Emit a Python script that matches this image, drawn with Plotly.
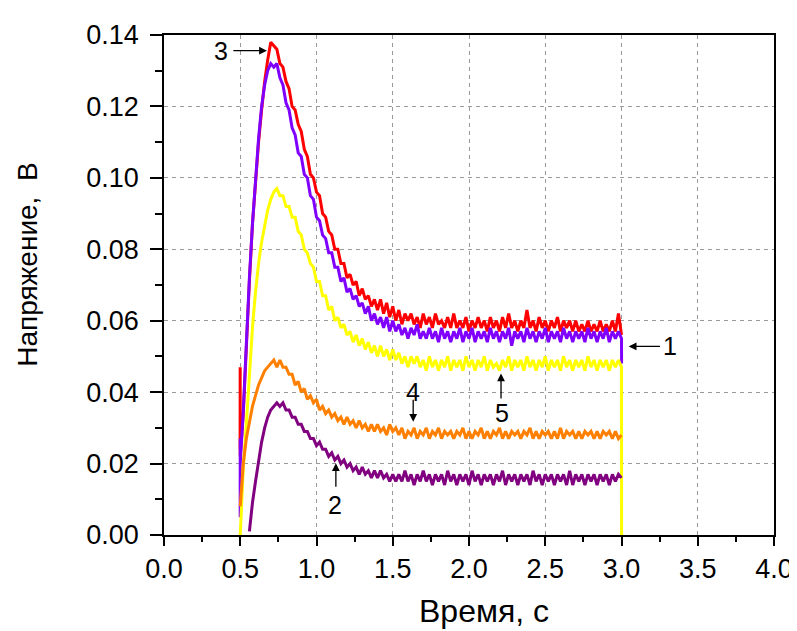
import plotly.graph_objects as go

# sampling grid (s)
T = [round(0.50 + 0.02 * i, 2) for i in range(126)]

# ---- curve 3 (red) ----
red_pre_t = [0.499, 0.4995]
red_pre_v = [0.024, 0.047]
red_v = (
    [0.022, 0.034, 0.054, 0.071, 0.087, 0.099, 0.110, 0.119, 0.127, 0.133, 0.138, 0.137]
    + [0.136, 0.132, 0.131, 0.127, 0.125, 0.120, 0.119, 0.115, 0.113, 0.108,
       0.106, 0.101, 0.100, 0.096, 0.095, 0.090, 0.089, 0.085, 0.084, 0.080,
       0.080, 0.076, 0.076, 0.072, 0.073, 0.070, 0.071, 0.067, 0.069, 0.066,
       0.067, 0.064, 0.066, 0.063, 0.066, 0.062, 0.065, 0.061, 0.064]
    + [0.060, 0.063, 0.059, 0.062, 0.060, 0.062, 0.059, 0.061, 0.058, 0.062,
       0.059, 0.061, 0.058, 0.062, 0.059, 0.060, 0.058, 0.061, 0.058, 0.062,
       0.058, 0.060, 0.058, 0.061, 0.057, 0.060, 0.058, 0.061, 0.058, 0.060,
       0.057, 0.061, 0.058, 0.060, 0.057, 0.061, 0.058, 0.062, 0.058, 0.060,
       0.057, 0.060, 0.058, 0.063, 0.058, 0.060, 0.057, 0.061, 0.058, 0.060,
       0.057, 0.060, 0.058, 0.061, 0.057, 0.060, 0.058, 0.060, 0.057, 0.060,
       0.057, 0.059, 0.057, 0.060, 0.057, 0.059, 0.057, 0.060, 0.057, 0.059,
       0.057, 0.060, 0.057, 0.062, 0.056]
)

# ---- curve 1 (violet) ----
vio_pre_t = [0.4995, 0.4998]
vio_pre_v = [0.005, 0.027]
vio_end_t = [3.0005]
vio_end_v = [0.048]
vio_v = (
    [0.020, 0.035, 0.055, 0.072, 0.087, 0.100, 0.111, 0.120, 0.126, 0.130, 0.132, 0.131]
    + [0.132, 0.128, 0.126, 0.121, 0.119, 0.114, 0.112, 0.107, 0.106, 0.101,
       0.100, 0.095, 0.094, 0.089, 0.088, 0.084, 0.083, 0.079, 0.079, 0.075,
       0.075, 0.071, 0.072, 0.068, 0.069, 0.066, 0.067, 0.064, 0.065, 0.062,
       0.064, 0.060, 0.062, 0.059, 0.061, 0.058, 0.061, 0.057, 0.060]
    + [0.057, 0.059, 0.056, 0.058, 0.055, 0.058, 0.056, 0.059, 0.055, 0.057,
       0.055, 0.058, 0.055, 0.057, 0.054, 0.058, 0.055, 0.057, 0.054, 0.057,
       0.055, 0.058, 0.054, 0.057, 0.055, 0.058, 0.054, 0.057, 0.055, 0.057,
       0.054, 0.058, 0.055, 0.057, 0.054, 0.057, 0.055, 0.058, 0.053, 0.057,
       0.055, 0.057, 0.054, 0.058, 0.055, 0.057, 0.054, 0.057, 0.055, 0.058,
       0.054, 0.057, 0.055, 0.057, 0.054, 0.058, 0.055, 0.057, 0.054, 0.057,
       0.055, 0.057, 0.054, 0.058, 0.055, 0.057, 0.054, 0.057, 0.055, 0.058,
       0.054, 0.057, 0.055, 0.057, 0.055]
)

# ---- curve 5 (yellow) ----
yel_end_t = [3.0005]
yel_end_v = [0.0]
yel_v = (
    [0.000, 0.019, 0.031, 0.045, 0.058, 0.068, 0.076, 0.082, 0.087, 0.091, 0.094, 0.096]
    + [0.097, 0.095, 0.095, 0.092, 0.092, 0.089, 0.089, 0.085, 0.084, 0.080,
       0.079, 0.076, 0.075, 0.071, 0.071, 0.067, 0.067, 0.063, 0.064, 0.060,
       0.061, 0.058, 0.059, 0.056, 0.057, 0.054, 0.056, 0.053, 0.055, 0.052,
       0.054, 0.051, 0.053, 0.050, 0.053, 0.050, 0.052, 0.049, 0.052]
    + [0.049, 0.051, 0.048, 0.050, 0.047, 0.050, 0.048, 0.050, 0.047, 0.049,
       0.046, 0.050, 0.047, 0.049, 0.046, 0.049, 0.047, 0.050, 0.046, 0.049,
       0.047, 0.049, 0.046, 0.050, 0.047, 0.049, 0.046, 0.049, 0.047, 0.050,
       0.046, 0.049, 0.047, 0.048, 0.046, 0.049, 0.047, 0.050, 0.046, 0.049,
       0.047, 0.049, 0.046, 0.050, 0.047, 0.049, 0.046, 0.049, 0.047, 0.050,
       0.046, 0.049, 0.047, 0.049, 0.046, 0.050, 0.047, 0.049, 0.046, 0.049,
       0.047, 0.049, 0.046, 0.050, 0.047, 0.049, 0.046, 0.049, 0.047, 0.049,
       0.046, 0.049, 0.047, 0.049, 0.047]
)

# ---- curve 4 (orange) ----
ora_v = (
    [0.008, 0.020, 0.027, 0.032, 0.036, 0.039, 0.042, 0.044, 0.046, 0.047, 0.048, 0.049]
    + [0.047, 0.049, 0.047, 0.047, 0.045, 0.045, 0.042, 0.043, 0.040, 0.041,
       0.038, 0.039, 0.037, 0.038, 0.035, 0.036, 0.034, 0.035, 0.033, 0.034,
       0.032, 0.033, 0.031, 0.033, 0.031, 0.032, 0.030, 0.032, 0.030, 0.031,
       0.029, 0.031, 0.029, 0.031, 0.029, 0.030, 0.028, 0.031, 0.029]
    + [0.030, 0.028, 0.030, 0.027, 0.029, 0.028, 0.030, 0.027, 0.029, 0.028,
       0.030, 0.027, 0.029, 0.028, 0.030, 0.027, 0.029, 0.028, 0.029, 0.027,
       0.029, 0.028, 0.030, 0.027, 0.029, 0.027, 0.029, 0.028, 0.030, 0.027,
       0.029, 0.027, 0.029, 0.028, 0.030, 0.027, 0.029, 0.027, 0.029, 0.028,
       0.029, 0.027, 0.029, 0.028, 0.030, 0.027, 0.029, 0.027, 0.029, 0.028,
       0.029, 0.027, 0.029, 0.027, 0.030, 0.027, 0.029, 0.028, 0.029, 0.027,
       0.029, 0.027, 0.029, 0.028, 0.029, 0.027, 0.029, 0.027, 0.029, 0.028,
       0.029, 0.027, 0.029, 0.027, 0.028]
)

# ---- curve 2 (purple) ----
pur_v = (
    [None, None, None, 0.001, 0.009, 0.015, 0.021, 0.026, 0.030, 0.033, 0.035, 0.036]
    + [0.037, 0.036, 0.037, 0.035, 0.035, 0.033, 0.033, 0.031, 0.031, 0.029,
       0.029, 0.027, 0.027, 0.025, 0.026, 0.024, 0.024, 0.022, 0.023, 0.021,
       0.022, 0.020, 0.021, 0.019, 0.020, 0.018, 0.019, 0.017, 0.019, 0.017,
       0.018, 0.016, 0.018, 0.016, 0.018, 0.016, 0.017, 0.015, 0.017]
    + [0.015, 0.017, 0.015, 0.018, 0.015, 0.017, 0.014, 0.017, 0.015, 0.018,
       0.015, 0.017, 0.014, 0.017, 0.015, 0.017, 0.014, 0.018, 0.015, 0.017,
       0.014, 0.017, 0.015, 0.017, 0.014, 0.018, 0.015, 0.017, 0.014, 0.017,
       0.015, 0.017, 0.014, 0.017, 0.015, 0.018, 0.014, 0.017, 0.015, 0.017,
       0.014, 0.017, 0.015, 0.017, 0.014, 0.018, 0.015, 0.017, 0.014, 0.017,
       0.015, 0.017, 0.014, 0.017, 0.015, 0.017, 0.014, 0.018, 0.014, 0.017,
       0.015, 0.017, 0.014, 0.017, 0.015, 0.017, 0.014, 0.017, 0.015, 0.017,
       0.014, 0.017, 0.015, 0.017, 0.016]
)

for arr in (red_v, vio_v, yel_v, ora_v, pur_v):
    assert len(arr) == len(T), len(arr)

# curve labels: (text, label x, label y, arrow tail x, tail y, arrow head x, head y)
labels = [
    ("3", 0.375, 0.1356, 0.445, 0.1356, 0.675, 0.1356),
    ("1", 3.316, 0.0528, 3.262, 0.0528, 3.047, 0.0528),
    ("4", 1.634, 0.0400, 1.634, 0.0383, 1.634, 0.0317),
    ("5", 2.215, 0.0343, 2.210, 0.0378, 2.210, 0.0452),
    ("2", 1.123, 0.0083, 1.127, 0.0131, 1.127, 0.0201),
]

FONT = "Liberation Sans, Arial, sans-serif"
LW = 3

fig = go.Figure()
fig.add_trace(go.Scatter(x=red_pre_t + T, y=red_pre_v + red_v, mode="lines",
                         line=dict(color="#FF0000", width=LW), name="3"))
fig.add_trace(go.Scatter(x=vio_pre_t + T + vio_end_t, y=vio_pre_v + vio_v + vio_end_v,
                         mode="lines", line=dict(color="#8000FF", width=LW), name="1"))
fig.add_trace(go.Scatter(x=T + yel_end_t, y=yel_v + yel_end_v, mode="lines",
                         line=dict(color="#FFFF00", width=LW), name="5"))
fig.add_trace(go.Scatter(x=T, y=ora_v, mode="lines",
                         line=dict(color="#FF8000", width=LW), name="4"))
fig.add_trace(go.Scatter(x=T, y=pur_v, mode="lines", connectgaps=False,
                         line=dict(color="#800080", width=LW), name="2"))

annotations = []
for txt, lx, ly, tx, ty, hx, hy in labels:
    annotations.append(dict(x=lx, y=ly, xref="x", yref="y", text=txt, showarrow=False,
                            xanchor="center", yanchor="middle",
                            font=dict(family=FONT, size=25, color="black")))
    annotations.append(dict(x=hx, y=hy, ax=tx, ay=ty, xref="x", yref="y", axref="x", ayref="y",
                            text="", showarrow=True, arrowhead=2, arrowsize=1.2,
                            arrowwidth=1.3, arrowcolor="black"))

annotations.append(dict(x=0.524, y=-0.152, xref="paper", yref="paper", text="Время, с",
                        xanchor="center", yanchor="middle",
                        showarrow=False, font=dict(family=FONT, size=32, color="black")))
annotations.append(dict(x=-0.225, y=0.54, xref="paper", yref="paper", text="Напряжение,  В",
                        xanchor="center", yanchor="middle",
                        textangle=-90, showarrow=False,
                        font=dict(family=FONT, size=28, color="black")))

fig.update_layout(
    width=797, height=631,
    margin=dict(l=156, r=21, t=26, b=104),
    paper_bgcolor="white", plot_bgcolor="white",
    showlegend=False,
    font=dict(family=FONT, color="black"),
    annotations=annotations,
)

fig.update_xaxes(
    range=[0, 4], tick0=0, dtick=0.5, tickformat=".1f",
    ticks="outside", ticklen=9, tickwidth=1.5, tickcolor="black",
    showline=True, linecolor="black", linewidth=1.5, mirror=True,
    showgrid=True, gridcolor="#9a9a9a", gridwidth=1, griddash="4px,4px",
    zeroline=False, tickfont=dict(size=27, family=FONT, color="black"),
    minor=dict(dtick=0.25, ticks="outside", ticklen=5, tickwidth=1.5, tickcolor="black", showgrid=False),
)
fig.update_yaxes(
    range=[0, 0.14], tick0=0, dtick=0.02, tickformat=".2f",
    ticks="outside", ticklen=12, tickwidth=1.5, tickcolor="black",
    showline=True, linecolor="black", linewidth=1.5, mirror=True,
    showgrid=True, gridcolor="#9a9a9a", gridwidth=1, griddash="4px,4px",
    zeroline=False, tickfont=dict(size=27, family=FONT, color="black"),
    ticklabelstandoff=6,
    minor=dict(dtick=0.01, ticks="outside", ticklen=7, tickwidth=1.5, tickcolor="black", showgrid=False),
)

fig.write_html("out.html")
